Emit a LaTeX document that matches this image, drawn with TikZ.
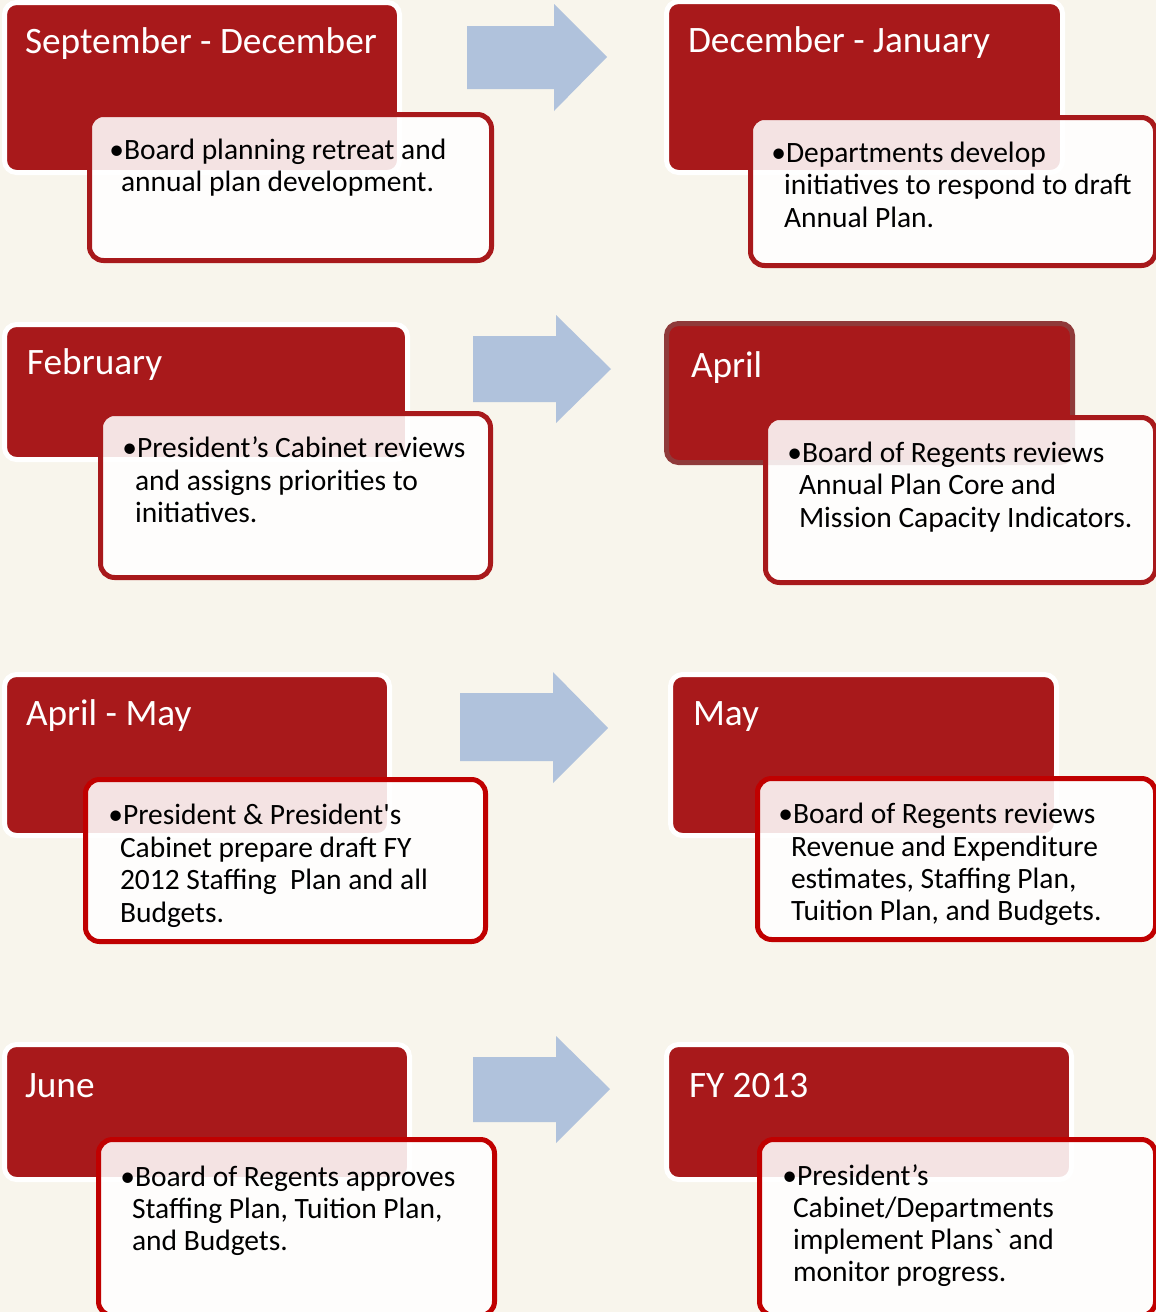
\documentclass[tikz,border=0pt]{standalone}
\usepackage{fontspec}
\setmainfont{Carlito}
\newfontfamily\carl{Carlito}
\definecolor{bg}{HTML}{F8F5EC}
\definecolor{hdrred}{HTML}{A8191B}
\definecolor{tbdark}{HTML}{A8191B}
\definecolor{tbbright}{HTML}{C00000}
\definecolor{aprborder}{HTML}{8F3A3A}
\definecolor{arrowblue}{HTML}{B0C2DC}
\newcommand\mkhead[6]{%
  \pgfmathsetmacro\myW{#5-#3+5}\pgfmathsetmacro\myH{#6-#4+5}%
  \node[#1, minimum width=\myW, minimum height=\myH, anchor=north west] (#2) at (#3-2.5,#4-2.5) {};}
\newcommand\mktext[6]{%
  \pgfmathsetmacro\myW{#5-#3-5}\pgfmathsetmacro\myH{#6-#4-5}%
  \node[#1, minimum width=\myW, minimum height=\myH, anchor=north west] (#2) at (#3+2.5,#4+2.5) {};}
\newcommand\mkarrow[9]{% name, xl, xm, tip, shaft top, shaft bottom, head top, head bottom, tip y
  \path[blockarrow] (#2,#5) -- (#3,#5) -- (#3,#7) -- (#4,#9) -- (#3,#8) -- (#3,#6) -- (#2,#6) -- cycle;
  \coordinate (#1) at (#4,#9);}
\newcommand\blt{\llap{•}}
\begin{document}
\begin{tikzpicture}[x=1pt,y=-1pt,
  hdr/.style={rectangle, rounded corners=12pt, fill=hdrred, draw=white, line width=5pt, inner sep=0pt, outer sep=0pt},
  hdrapr/.style={hdr, draw=aprborder},
  tbox/.style={rectangle, rounded corners=14pt, fill=white, fill opacity=0.88, draw=tbdark, line width=5pt, inner sep=0pt, outer sep=0pt},
  tboxb/.style={tbox, draw=tbbright},
  ttl/.style={anchor=base west, inner sep=0pt, outer sep=0pt, text=white, font=\carl\fontsize{37.3}{44}\selectfont},
  bod/.style={anchor=base west, inner sep=0pt, outer sep=0pt, text=black, font=\carl\fontsize{29.5}{34}\selectfont},
  blockarrow/.style={fill=arrowblue}]
\path[fill=bg] (0,0) rectangle (1156,1312);
\useasboundingbox (0,0) rectangle (1156,1312);

% arrows
\mkarrow{a1}{467}{554}{607}{26}{89}{4}{111}{57}
\mkarrow{a2}{473}{556}{611}{336}{402}{315}{423}{369}
\mkarrow{a3}{460}{553}{608}{693}{761}{672}{783}{728}
\mkarrow{a4}{473}{556}{610}{1057}{1122}{1036}{1143}{1089}

% headers
\mkhead{hdr}{h1}{7}{5}{397}{170}
\mkhead{hdr}{h2}{669}{4}{1060}{170}
\mkhead{hdr}{h3}{7}{327}{405}{457}
\mkhead{hdrapr}{h4}{669}{326}{1070}{460}
\mkhead{hdr}{h5}{7}{677}{387}{833}
\mkhead{hdr}{h6}{673}{677}{1054}{833}
\mkhead{hdr}{h7}{7}{1047}{407}{1177}
\mkhead{hdr}{h8}{669}{1047}{1069}{1177}

% header titles
\node[ttl] (h1t) at (25,53) {September - December};
\node[ttl] (h2t) at (688,52) {December - January};
\node[ttl] (h3t) at (27,374) {February};
\node[ttl] (h4t) at (691,377) {April};
\node[ttl] (h5t) at (26,725) {April - May};
\node[ttl] (h6t) at (693,725) {May};
\node[ttl] (h7t) at (25,1097) {June};
\node[ttl] (h8t) at (689,1097) {FY 2013};

% text boxes
\mktext{tbox}{t1}{87}{112}{494}{263}
\mktext{tbox}{t2}{748}{115}{1158}{268}
\mktext{tbox}{t3}{98}{411}{493}{580}
\mktext{tbox}{t4}{763}{415}{1158}{585}
\mktext{tboxb}{t5}{83}{777}{488}{944}
\mktext{tboxb}{t6}{755}{776}{1158}{942}
\mktext{tboxb}{t7}{96}{1137}{497}{1318}
\mktext{tboxb}{t8}{757}{1137}{1158}{1318}

% body text
\node[bod] (t1a) at (124,159) {\blt Board planning retreat and};
\node[bod] (t1b) at (121,191) {annual plan development.};

\node[bod] (t2a) at (786,162) {\blt Departments develop};
\node[bod] (t2b) at (784,194.5) {initiatives to respond to draft};
\node[bod] (t2c) at (784,227) {Annual Plan.};

\node[bod] (t3a) at (137,457) {\blt President’s Cabinet reviews};
\node[bod] (t3b) at (135,490) {and assigns priorities to};
\node[bod] (t3c) at (135,522) {initiatives.};

\node[bod] (t4a) at (802,462) {\blt Board of Regents reviews};
\node[bod] (t4b) at (799,494) {Annual Plan Core and};
\node[bod] (t4c) at (799,527) {Mission Capacity Indicators.};

\node[bod] (t5a) at (123,824) {\blt President \& President's};
\node[bod] (t5b) at (120,857) {Cabinet prepare draft FY};
\node[bod] (t5c) at (120,889) {2012 Staffing\ \ Plan and all};
\node[bod] (t5d) at (120,922) {Budgets.};

\node[bod] (t6a) at (793,823) {\blt Board of Regents reviews};
\node[bod] (t6b) at (791,856) {Revenue and Expenditure};
\node[bod] (t6c) at (791,888) {estimates, Staffing Plan,};
\node[bod] (t6d) at (791,920) {Tuition Plan, and Budgets.};

\node[bod] (t7a) at (135,1186) {\blt Board of Regents approves};
\node[bod] (t7b) at (132,1218) {Staffing Plan, Tuition Plan,};
\node[bod] (t7c) at (132,1250) {and Budgets.};

\node[bod] (t8a) at (797,1185) {\blt President’s};
\node[bod] (t8b) at (793,1217) {Cabinet/Departments};
\node[bod] (t8c) at (793,1249) {implement Plans` and};
\node[bod] (t8d) at (793,1281) {monitor progress.};
\end{tikzpicture}
\end{document}
